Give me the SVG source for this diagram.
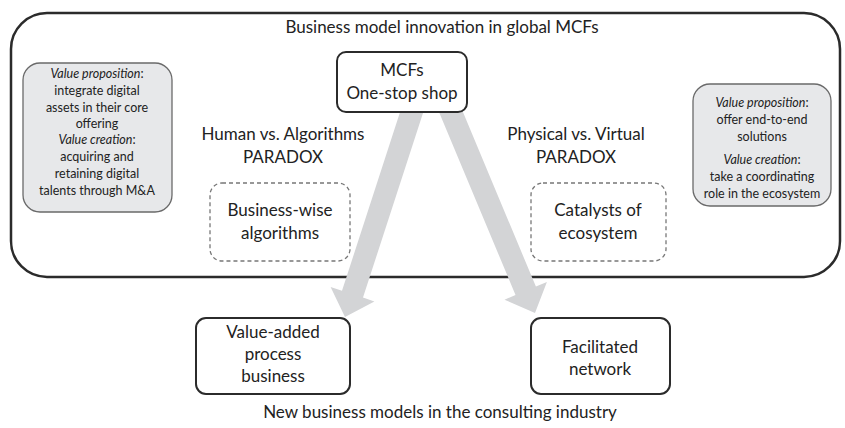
<svg xmlns="http://www.w3.org/2000/svg" width="845" height="428" viewBox="0 0 845 428">
  <style>
    text { font-family: Lato, "Open Sans", "Liberation Sans", sans-serif; fill: #222; text-anchor: middle; }
    .big { font-size: 17px; }
    .small { font-size: 12.5px; }
    .it { font-style: italic; }
    .frame { fill: none; stroke: #2b2b2b; stroke-width: 2.5; }
    .box { fill: #fff; stroke: #2b2b2b; stroke-width: 2; }
    .note { fill: #e7e8ea; stroke: #6a6a6a; stroke-width: 1.3; }
    .dash { fill: none; stroke: #777; stroke-width: 1.3; stroke-dasharray: 4 3; }
    .flow { fill: #d3d4d6; }
  </style>

  <!-- outer frame -->
  <g id="frame">
    <rect class="frame" x="11" y="13" width="829" height="264" rx="36"/>
    <text class="big" x="442" y="33">Business model innovation in global MCFs</text>
  </g>

  <!-- wide arrows from the hub down to the two business models -->
  <g id="connectors">
    <polygon class="flow" points="402.5,104.6 423.5,111.4 363,297.6 374.4,301.4 345,317 330.6,287 342,290.8"/>
    <polygon class="flow" points="439.1,112.2 459.5,103.8 535.9,286.6 546.9,281.9 535,313 504.5,299.7 515.5,295"/>
  </g>

  <g id="hub">
    <rect class="box" x="337" y="52" width="130" height="60" rx="9"/>
    <text class="big" x="402" y="76">MCFs</text>
    <text class="big" x="402" y="99">One-stop shop</text>
  </g>

  <g id="left-note">
    <rect class="note" x="23" y="63" width="149" height="149" rx="17"/>
    <text class="small" x="97" y="78"><tspan class="it">Value proposition</tspan>:</text>
    <text class="small" x="97" y="95">integrate digital</text>
    <text class="small" x="97" y="112">assets in their core</text>
    <text class="small" x="97" y="128">offering</text>
    <text class="small" x="97" y="144"><tspan class="it">Value creation</tspan>:</text>
    <text class="small" x="97" y="161">acquiring and</text>
    <text class="small" x="97" y="178">retaining digital</text>
    <text class="small" x="97" y="195">talents through M&amp;A</text>
  </g>

  <g id="right-note">
    <rect class="note" x="693" y="84" width="138" height="122" rx="17"/>
    <text class="small" x="762" y="107"><tspan class="it">Value proposition</tspan>:</text>
    <text class="small" x="762" y="124">offer end-to-end</text>
    <text class="small" x="762" y="141">solutions</text>
    <text class="small" x="762" y="164"><tspan class="it">Value creation</tspan>:</text>
    <text class="small" x="762" y="181">take a coordinating</text>
    <text class="small" x="762" y="198">role in the ecosystem</text>
  </g>

  <g id="paradox-left">
    <text class="big" x="283" y="140">Human vs. Algorithms</text>
    <text class="big" x="283" y="163">PARADOX</text>
  </g>

  <g id="paradox-right">
    <text class="big" x="576" y="140">Physical vs. Virtual</text>
    <text class="big" x="576" y="163">PARADOX</text>
  </g>

  <g id="algorithms">
    <rect class="dash" x="210" y="183" width="140" height="78" rx="12"/>
    <text class="big" x="280" y="216">Business-wise</text>
    <text class="big" x="280" y="239">algorithms</text>
  </g>

  <g id="catalysts">
    <rect class="dash" x="531" y="183" width="135" height="78" rx="12"/>
    <text class="big" x="598" y="216">Catalysts of</text>
    <text class="big" x="598" y="239">ecosystem</text>
  </g>

  <g id="value-added">
    <rect class="box" x="196" y="318" width="154" height="76" rx="10"/>
    <text class="big" x="273" y="338">Value-added</text>
    <text class="big" x="273" y="360">process</text>
    <text class="big" x="273" y="382">business</text>
  </g>

  <g id="facilitated">
    <rect class="box" x="531" y="318" width="139" height="76" rx="10"/>
    <text class="big" x="600" y="353">Facilitated</text>
    <text class="big" x="600" y="375">network</text>
  </g>

  <text class="big" x="440" y="418">New business models in the consulting industry</text>
</svg>
